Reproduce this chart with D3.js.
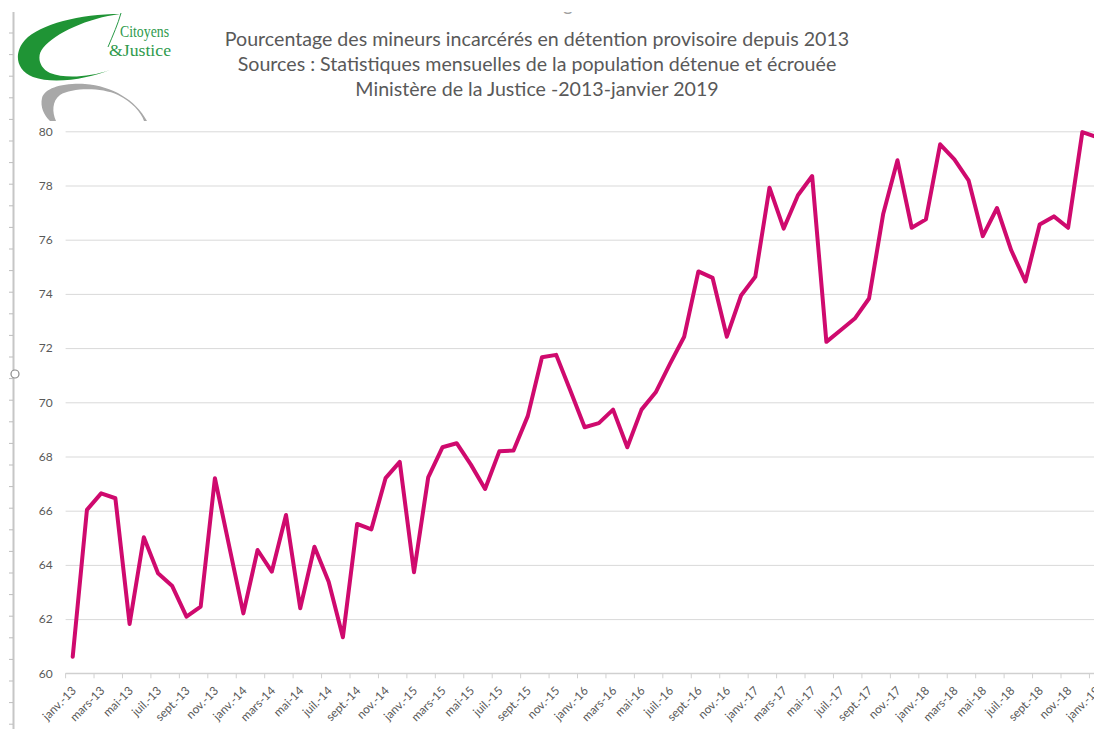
<!DOCTYPE html>
<html>
<head>
<meta charset="utf-8">
<script src="https://cdn.jsdelivr.net/npm/d3@7"></script>
<style>
  html, body { margin: 0; padding: 0; background: #ffffff; }
  svg { display: block; }
</style>
</head>
<body>
<svg id="chart" width="1094" height="729"></svg>
<script>
// ---------- data ----------
const monthNames = ["janv.", "févr.", "mars", "avr.", "mai", "juin", "juil.", "août", "sept.", "oct.", "nov.", "déc."];
const years = ["13", "14", "15", "16", "17", "18", "19"];
const categories = [];
years.forEach(yy => monthNames.forEach(m => { if (categories.length < 73) categories.push(m + "-" + yy); }));

const values = [
  60.61, 66.03, 66.64, 66.46, 61.82, 65.02, 63.69, 63.22, 62.09, 62.46, 67.20, 64.70,
  62.21, 64.55, 63.75, 65.84, 62.40, 64.67, 63.38, 61.33, 65.51, 65.31, 67.20, 67.80,
  63.73, 67.23, 68.34, 68.49, 67.70, 66.80, 68.19, 68.22, 69.49, 71.66, 71.75, 70.43,
  69.08, 69.23, 69.73, 68.34, 69.73, 70.37, 71.42, 72.42, 74.83, 74.59, 72.42, 73.94,
  74.63, 77.92, 76.41, 77.64, 78.35, 72.23, 72.66, 73.09, 73.83, 76.96, 78.93, 76.44,
  76.75, 79.52, 78.96, 78.19, 76.13, 77.17, 75.61, 74.46, 76.56, 76.86, 76.44, 79.97,
  79.79
];
const yTicks = [60, 62, 64, 66, 68, 70, 72, 74, 76, 78, 80];
const xTickLabels = categories.filter((c, i) => i % 2 === 0);
const titleLines = [
  "Pourcentage des mineurs incarcérés en détention provisoire depuis 2013",
  "Sources : Statistiques mensuelles de la population détenue et écrouée",
  "Ministère de la Justice -2013-janvier 2019"
];

// ---------- layout ----------
const svg = d3.select("#chart");
const defs = svg.append("defs");
const W = 1094, H = 729;
const plotLeft = 65.6, step = 14.22;
const plotRight = plotLeft + step * categories.length;
const plotTop = 131.3, plotBottom = 673.3;
const textColor = "#595959";
const gridColor = "#d9d9d9";
const lineColor = "#cf0a6e";
const font = "Lato, 'Open Sans', sans-serif";

const x = d3.scaleBand().domain(categories).range([plotLeft, plotRight]).padding(0);
const y = d3.scaleLinear().domain([60, 80]).range([plotBottom, plotTop]);

// left sheet ruler
const ruler = svg.append("g");
ruler.append("line").attr("x1", 13.5).attr("x2", 13.5).attr("y1", 12).attr("y2", H)
  .attr("stroke", "#c6c6c6").attr("stroke-width", 2);
for (let ty = 33; ty < H; ty += 21.6) {
  ruler.append("line").attr("x1", 9).attr("x2", 13).attr("y1", ty).attr("y2", ty)
    .attr("stroke", "#bdbdbd").attr("stroke-width", 1);
}
ruler.append("circle").attr("cx", 15).attr("cy", 374).attr("r", 4)
  .attr("fill", "#fff").attr("stroke", "#8a8a8a").attr("stroke-width", 1.2);

// cut-off remnant of a text line above the visible area
defs.append("clipPath").attr("id", "topClip")
  .append("rect").attr("x", 540).attr("y", 12).attr("width", 60).attr("height", 10);
svg.append("text").attr("clip-path", "url(#topClip)")
  .attr("x", 563).attr("y", 11).attr("font-family", font).attr("font-size", 19)
  .attr("fill", "#a0a0a0").text("g");

// y axis + gridlines
const yAxis = d3.axisLeft(y).tickValues(yTicks).tickSize(-(W + 20 - plotLeft)).tickPadding(13)
  .tickFormat(d3.format("d"));
const gy = svg.append("g").attr("transform", `translate(${plotLeft},0)`).call(yAxis);
gy.select(".domain").remove();
gy.selectAll(".tick line").attr("stroke", gridColor).attr("stroke-width", 1);
gy.selectAll(".tick text").attr("fill", textColor).attr("font-family", font).attr("font-size", 12);

// x axis line
svg.append("line").attr("x1", plotLeft).attr("x2", W + 20)
  .attr("y1", y(60)).attr("y2", y(60)).attr("stroke", "#d0d0d0").attr("stroke-width", 1.2);

// x tick marks (between categories, every 2)
const gx = svg.append("g");
gx.selectAll("line.tk").data(xTickLabels).join("line").attr("class", "tk")
  .attr("x1", d => x(d)).attr("x2", d => x(d))
  .attr("y1", y(60)).attr("y2", y(60) + 5)
  .attr("stroke", "#d0d0d0").attr("stroke-width", 1);

gx.selectAll("text.lb").data(xTickLabels).join("text").attr("class", "lb")
  .attr("transform", d => `translate(${x(d) + x.bandwidth() / 2 + 1},${y(60) + 15}) rotate(-45)`)
  .attr("text-anchor", "end")
  .attr("dominant-baseline", "central")
  .attr("font-family", font).attr("font-size", 11.8).attr("fill", textColor)
  .text(d => d);

// data line
const pts = categories.map((c, i) => ({ c, v: values[i] }));
const line = d3.line().x(d => x(d.c) + x.bandwidth() / 2).y(d => y(d.v));
svg.append("path").datum(pts).attr("d", line)
  .attr("fill", "none").attr("stroke", lineColor).attr("stroke-width", 4)
  .attr("stroke-linejoin", "round").attr("stroke-linecap", "round");

// title
const titleG = svg.append("g");
const tl = titleG.selectAll("text").data(titleLines).join("text")
  .attr("x", 537).attr("y", (d, i) => 46 + i * 25)
  .attr("text-anchor", "middle")
  .attr("font-family", font).attr("font-size", 19).attr("fill", textColor)
  .text(d => d);
const w0 = tl.nodes()[0].getComputedTextLength();
const fs = 19 * 625 / w0;
tl.attr("font-size", fs);

// logo
const logo = svg.append("g");
defs.append("clipPath").attr("id", "logoClip")
  .append("rect").attr("x", 15).attr("y", 12).attr("width", 162).attr("height", 109);
const lg = logo.append("g").attr("clip-path", "url(#logoClip)");
lg.append("rect").attr("x", 15).attr("y", 12).attr("width", 162).attr("height", 109).attr("fill", "#ffffff");
// green crescent (open towards the right, thick on the left)
lg.append("path")
  .attr("d", "M 120,14 C 80,14 40,24 25,40 C 14,52 15,70 33,77 C 55,85 90,78 110,70 " +
             "C 90,77 65,79 50,73 C 38,67 37,55 43,48 C 55,33 88,18 120,14 Z")
  .attr("fill", "#1f9435");
lg.append("path").attr("d", "M 121,13 C 118,24 113,35 108,47")
  .attr("fill", "none").attr("stroke", "#2a9a48").attr("stroke-width", 1);
// gray crescent (thick on the left, thin arc to the lower right)
lg.append("path")
  .attr("d", "M 147,121 C 136,100 112,86 85,84 C 62,83 45,88 42,98 C 40,107 44,115 50,121 L 56,121 " +
             "C 52,112 52,101 60,95 C 72,88 100,87 118,95 C 132,102 141,112 144,121 Z")
  .attr("fill", "#a8a8a8");
// logo text
lg.append("text").attr("x", 120).attr("y", 37).attr("font-family", "'Liberation Serif', serif")
  .attr("font-size", 17).attr("fill", "#2e9a4c").attr("textLength", 49).attr("lengthAdjust", "spacingAndGlyphs")
  .text("Citoyens");
lg.append("text").attr("x", 109).attr("y", 56).attr("font-family", "'Liberation Serif', serif")
  .attr("font-size", 17).attr("fill", "#2e9a4c").attr("textLength", 62).attr("lengthAdjust", "spacingAndGlyphs")
  .text("&Justice");
</script>
</body>
</html>
